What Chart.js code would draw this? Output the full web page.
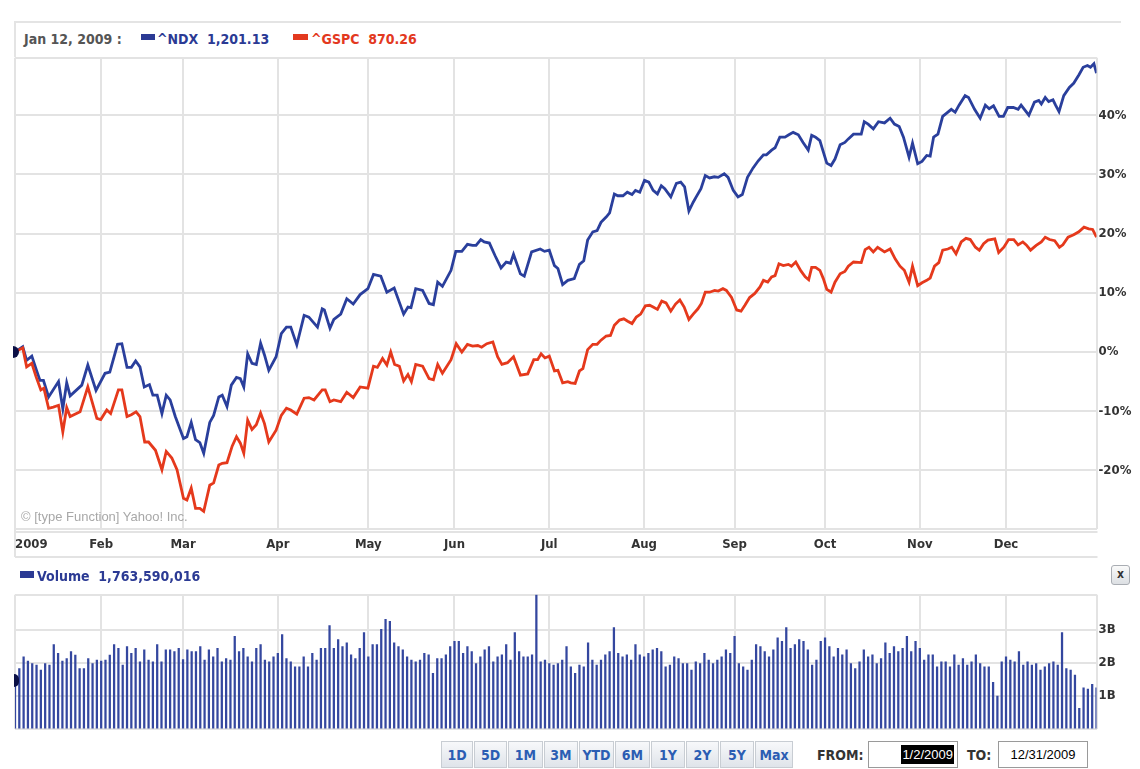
<!DOCTYPE html>
<html>
<head>
<meta charset="utf-8">
<script src="https://cdn.jsdelivr.net/npm/chart.js@4.4.0/dist/chart.umd.min.js"></script>
<style>
  body { margin: 0; background: #fff; width: 1140px; height: 769px; overflow: hidden; position: relative;
         font-family: "DejaVu Sans Condensed", "Liberation Sans Narrow", "DejaVu Sans", sans-serif; }
  .abs { position: absolute; }
  .hdr { font-weight: bold; font-size: 14px; white-space: pre; line-height: 16px; }
  .btn { position: absolute; top: 741px; height: 27px; line-height: 27px; text-align: center; font-weight: bold;
         font-size: 14px; color: #2b5db3; border: 1px solid #c8cdd3; box-sizing: border-box;
         background: linear-gradient(#f7f8fa, #dfe4ea); }
  .box { position: absolute; top: 741px; height: 27px; border: 1px solid #9a9a9a; box-sizing: border-box; background: #fff;
         font-family: "Liberation Sans", Arial, sans-serif; font-size: 13px; line-height: 25px; }
</style>
</head>
<body>
<!-- legend strip above the price pane -->
<div class="abs" style="left:15px; top:21px; width:1106px; height:2px; background:#e4e4e4"></div>
<div class="abs" style="left:14px; top:21px; width:2px; height:36px; background:#e4e4e4"></div>
<div class="abs hdr" style="left:24px; top:31px; color:#555">Jan 12, 2009 :</div>
<div class="abs" style="left:141px; top:34px; width:14px; height:6px; background:#2b3a94"></div>
<div class="abs hdr" style="left:157px; top:31px; color:#2b3a94">^NDX  1,201.13</div>
<div class="abs" style="left:293px; top:34px; width:15px; height:6px; background:#e3391f"></div>
<div class="abs hdr" style="left:311px; top:31px; color:#e3391f">^GSPC  870.26</div>

<canvas id="priceChart" class="abs" style="left:0; top:48px" width="1140" height="517"></canvas>
<canvas id="volumeChart" class="abs" style="left:0; top:585px" width="1140" height="154"></canvas>

<div class="abs" style="left:13px; top:346px; width:6px; height:12px; background:#0b1046; border-radius:0 6px 6px 0"></div>
<div class="abs" style="left:14px; top:674px; width:5px; height:13px; background:#0b1046; border-radius:0 6px 6px 0"></div>
<div class="abs" style="left:21px; top:509px; color:#a8a8a8; font-family:'Liberation Sans',Arial,sans-serif; font-size:13px">&copy; [type Function] Yahoo! Inc.</div>

<!-- volume header -->
<div class="abs" style="left:20px; top:571px; width:14px; height:7px; background:#2b3a94"></div>
<div class="abs hdr" style="left:37px; top:568px; color:#2b3a94">Volume  1,763,590,016</div>
<div class="abs" style="left:1111px; top:565px; width:19px; height:20px; box-sizing:border-box; border:1px solid #a9adb3; border-radius:3px;
     background:linear-gradient(#fafafa,#dcdfe3); text-align:center; font-size:12px; line-height:17px; color:#333; font-weight:bold">x</div>

<!-- range buttons and date boxes -->
<div id="buttons"></div>
<div class="abs hdr" style="left:817px; top:747px; color:#333">FROM:</div>
<div class="box" style="left:868px; width:90px; text-align:right; padding-right:3px">
  <span style="background:#000; color:#fff; padding:2px 1px">1/2/2009</span></div>
<div class="abs hdr" style="left:967px; top:747px; color:#333">TO:</div>
<div class="box" style="left:998px; width:90px; text-align:center">12/31/2009</div>

<script>
// trading-day index of each month start (0 = Jan 2, 251 = Dec 31)
const monthDays = [0, 20, 39, 61, 82, 102, 124, 146, 167, 188, 210, 230];
const monthLabels = ['2009', 'Feb', 'Mar', 'Apr', 'May', 'Jun', 'Jul', 'Aug', 'Sep', 'Oct', 'Nov', 'Dec'];
const lastDay = 251;
const pctTicks = [-20, -10, 0, 10, 20, 30, 40];
const volTicks = [1, 2, 3];
const rangeButtons = ['1D', '5D', '1M', '3M', 'YTD', '6M', '1Y', '2Y', '5Y', 'Max'];

// ^NDX, % change since Jan 2 (turning points)
const ndxDay = [
  0, 1.8, 2.7, 3.9, 5, 5.8, 6.6, 7.8, 10.1, 11.1,
  12, 12.8, 15.5, 16.9, 18.8, 20.9, 22, 23.8, 24.8, 26,
  27, 28, 29, 30, 31.2, 32, 33, 34.1, 35.1, 36,
  37.2, 39.1, 39.9, 40.9, 41.9, 42.9, 43.8, 45.2, 46.1, 47.3,
  48.1, 49.2, 50.2, 51.4, 52.3, 53.1, 54, 55, 56, 57,
  57.9, 58.9, 60.6, 61.8, 63, 64,
  65.4, 67.1, 68.2, 70.2, 71.3, 71.8, 73.1, 74, 75.6, 77,
  78.5, 80.1, 81.9, 83.2, 84.9, 86.3, 88, 90.2, 91.2, 91.9,
  93, 94.6, 96.1, 97.1, 98.1, 99.2, 101.2, 102.3, 103.7, 105,
  106.2, 107, 108.1, 108.9, 110.1, 111.4, 112.8, 114, 115, 115.7,
  117.3, 118.2, 119.9, 121.9, 122.9,
  124, 125.2, 126, 127.1, 128.3, 129.8, 131, 132, 132.9, 134.1,
  135.1, 136, 137.2, 138, 139.1, 139.9, 141.1, 142.1, 143.2, 144,
  145, 146.1, 147.1, 148.1, 149.1, 150, 150.8, 152.2, 153.5, 154.5,
  155.4, 156.4, 157.4, 158.1, 159.2, 160.2, 161.2, 162.3, 163.2, 164.6,
  165.5, 166.7, 167.8, 168.8, 170, 171.3, 172.5, 173.7, 174.4, 175.6,
  176.4, 177.5, 178.7, 179.6, 180.6, 181.8, 182.9, 184.1,
  184.9, 185.8, 186.8, 187.6, 188.4, 189.4, 190.3, 191.5, 192.6, 193.4,
  194.6, 196.4, 197.1, 198, 199.2, 200.4, 201.8, 203.1, 204.1, 205.2,
  206.2, 207.5, 208.3, 209.5, 210.5, 211.6, 212.4, 213.2, 214.2, 215.3,
  216.3, 217.3, 218.2, 219.1, 220.5, 221.3, 222.7, 224, 225.2, 226.1,
  227.1, 228.4, 229.4, 230.4, 231.7, 232.8, 233.5, 235.3, 236.6, 237.6,
  238.2, 239.1, 239.9, 240.9, 241.5, 242.3, 243.4, 244.7, 245.7, 246.9,
  247.9, 248.9, 249.6, 250.4, 251
];
const ndxPct = [
  0, 0.9, -1.4, -0.7, -3.1, -4.8, -4.8, -7.6, -5.0, -9.6,
  -5.2, -7.4, -5.6, -2.2, -6.5, -3.6, -3.4, 1.3, 1.4, -2.6,
  -2.6, -1.5, -2.5, -5.9, -5.5, -7.3, -7.3, -10.4, -7.3, -8.1,
  -10.9, -14.6, -14.3, -11.9, -14.8, -15.3, -17.1, -11.9, -10.7, -7.6,
  -7.3, -9.2, -5.6, -4.3, -4.5, -5.9, -0.3, -1.9, -2.1, 1.5,
  -0.5, -3.1, -0.8, 3.1, 4.2, 4.2,
  1.2, 6.2, 5.9, 4.2, 7.3, 7.1, 4.0, 5.5, 6.4, 9.0,
  8.1, 9.7, 10.7, 13.1, 12.8, 10.1, 10.8, 6.4, 7.6, 7.5,
  10.7, 10.4, 8.2, 8.0, 11.8, 11.1, 13.8, 17.0, 17.0, 18.2,
  18.0, 18.0, 19.0, 18.6, 18.4, 16.3, 14.2, 15.2, 15.0, 16.5,
  13.2, 12.8, 16.9, 17.4, 17.0,
  17.2, 14.6, 14.1, 11.4, 12.1, 12.4, 14.8, 15.4, 18.9, 20.3,
  20.5, 21.9, 22.8, 23.5, 26.7, 26.4, 26.4, 27.0, 26.6, 27.3,
  27.0, 29.0, 28.7, 27.3, 26.7, 28.1, 27.6, 26.2, 28.5, 28.7,
  27.9, 23.8, 25.3, 26.2, 27.6, 29.8, 29.4, 29.6, 29.5, 30.1,
  29.5, 27.3, 26.2, 26.6, 29.5, 31.1, 32.3, 33.3, 33.3, 34.1,
  34.5, 36.3, 36.3, 36.7, 37.1, 36.7, 35.4, 34.1,
  36.6, 36.3, 35.7, 33.8, 31.9, 31.5, 32.6, 35.0, 35.4, 36.0,
  36.8, 36.8, 38.9, 38.5, 37.7, 38.9, 38.7, 39.5, 38.5, 38.1,
  36.3, 32.9, 35.3, 31.8, 32.2, 33.2, 33.1, 36.3, 36.8, 39.8,
  40.4, 41.0, 40.5, 41.7, 43.3, 43.0, 41.0, 39.5, 41.7, 41.1,
  41.6, 39.8, 39.8, 41.3, 41.3, 41.0, 41.7, 40.0, 42.2, 42.5,
  41.9, 43.0, 42.3, 42.6, 41.7, 40.6, 43.3, 44.7, 45.4, 46.8,
  48.1, 48.4, 48.1, 48.7, 47.1
];

// ^GSPC, % change since Jan 2
const spxDay = [
  0, 1.8, 2.7, 3.9, 4.9, 6, 6.7, 7.8, 8.9, 10.1,
  11.1, 12, 12.8, 15.1, 16.9, 19, 19.9, 21.3, 22.2, 24,
  24.8, 26, 27, 28.1, 29, 30.1, 31, 32.6, 34.1, 35.1,
  36.4, 37.6, 39.1, 39.9, 40.9, 41.9, 42.9, 43.8, 45.2, 46.1,
  47.3, 48.1, 49.2, 50.4, 51.4, 52.3, 53.1, 54, 55, 56,
  57, 57.9, 58.9, 60.6, 61.8, 63, 64,
  65.4, 67.1, 68.2, 69.4, 71.3, 72, 73.1, 74, 75.6, 77,
  78.5, 80.1, 81.9, 83.2, 84.1, 85.3, 86.3, 87.2, 88.1, 89.2,
  90.2, 91.2, 92, 93, 94.6, 96.1, 97.1, 98.1, 99.2, 101.2,
  102.4, 103.7, 105, 106.2, 107.4, 108.3, 109.5, 110.9, 112, 113,
  114.3, 115.7, 117.3, 119, 120.4, 121.3, 122.1, 123,
  124, 125.2, 126, 127.1, 128.3, 129, 130, 131, 131.8, 132.9,
  134.1, 135.1, 136, 137.2, 138.2, 139.1, 140.3, 141.3, 142.2, 143.2,
  144.2, 145.2, 146.3, 147.3, 148.1, 149.1, 150.1, 151.1, 152.2, 153.3,
  154.3, 155.3, 156.4, 157.4, 158.5, 159.3, 160.2, 161.2, 162.4, 163.2,
  164.3, 165.1, 166.3, 167.5, 168.5, 169.4, 170.5, 171.7, 172.9, 173.7,
  174.7, 175.6, 176.4, 177.3, 178.3, 179.5, 180.2, 181.2, 182.4, 183.4,
  184.2,
  184.9, 185.8, 186.8, 187.6, 188.4, 189.4, 190.3, 191.5, 192.6, 193.4,
  194.6, 196.4, 197.3, 198.2, 199.2, 200.2, 201.8, 203.1, 204.3, 205.4,
  206.4, 207.5, 208.3, 209.5, 210.5, 211.6, 212.4, 213.4, 214.4, 215.3,
  216.5, 217.4, 218.4, 219.6, 220.7, 221.7, 222.9, 223.8, 224.8, 225.8,
  227.4, 228.3, 229.5, 230.6, 231.8, 232.8, 233.9, 234.7, 235.7, 237,
  238.2, 239.1, 240.1, 241.3, 242.4, 243.2, 244.4, 245.7, 246.9, 248.1,
  249.2, 250.1, 251
];
const spxPct = [
  0, 0.7, -2.5, -1.9, -4.2, -6.4, -6.1, -9.5, -9.3, -9.0,
  -13.5, -9.4, -10.9, -10.1, -5.9, -11.2, -11.4, -9.8, -10.4, -6.4,
  -6.4, -10.9, -10.6, -10.1, -10.9, -15.2, -15.2, -16.6, -19.9, -16.8,
  -17.9, -19.9, -24.7, -25.0, -23.0, -26.4, -26.4, -26.9, -22.5, -22.1,
  -19.1, -18.8, -18.7, -15.9, -14.3, -15.4, -17.1, -11.5, -13.1, -12.3,
  -10.3, -12.1, -15.2, -13.2, -10.7, -9.5, -9.8,
  -10.5, -7.8, -7.7, -8.1, -6.4, -6.4, -8.4, -8.1, -8.4, -6.8,
  -7.7, -5.9, -6.1, -2.4, -2.6, -1.1, -2.2, 0, -2.1, -2.4,
  -4.9, -3.8, -5.0, -2.1, -2.4, -4.5, -4.7, -2.1, -3.6, -1.3,
  1.4, 0, 1.3, 1.0, 1.1, 0.8, 1.4, 1.7, -0.8, -2.1,
  -1.8, -0.8, -3.9, -3.7, -1.3, -1.3, -0.3, -1.0,
  -0.7, -3.2, -3.1, -5.2, -5.0, -5.2, -5.3, -3.2, -2.8, 0.4,
  1.3, 1.3, 2.0, 2.7, 2.8, 4.5, 5.4, 5.6, 5.2, 4.8,
  5.9, 6.4, 7.8, 7.9, 7.6, 7.2, 8.6, 8.3, 6.9, 8.1,
  8.8, 7.6, 5.5, 6.4, 7.3, 8.2, 10.1, 10.1, 10.4, 10.3,
  10.7, 10.4, 9.2, 7.1, 6.9, 7.9, 9.2, 9.9, 11.0, 12.1,
  11.8, 12.7, 12.9, 14.9, 14.6, 14.8, 14.5, 15.2, 13.7, 12.7,
  12.2,
  14.3, 14.3, 13.8, 12.4, 10.6, 10.1, 11.8, 13.2, 13.6, 14.5,
  15.2, 15.1, 17.3, 17.7, 16.9, 17.7, 16.9, 17.4, 15.7, 14.5,
  13.8, 11.8, 14.5, 11.2, 11.7, 12.1, 12.5, 14.5, 15.1, 17.2,
  17.4, 17.7, 16.6, 18.6, 19.2, 19.0, 17.7, 17.2, 18.3, 18.9,
  19.1, 16.8, 17.7, 19.0, 19.0, 18.1, 18.6, 18.1, 17.2, 18.0,
  18.6, 19.4, 19.0, 18.8, 17.7, 18.1, 19.4, 19.8, 20.3, 21.1,
  20.8, 20.7, 19.4
];

// daily ^NDX volume, billions of shares, one value per trading day
const volume = [
  1.60, 1.83, 2.18, 2.05, 1.98, 1.93, 1.78, 1.98, 1.93, 2.55,
  2.29, 2.05, 2.13, 2.34, 2.23, 1.83, 1.83, 2.13, 1.98, 2.08,
  2.05, 2.08, 2.23, 2.55, 2.44, 1.93, 2.49, 2.29, 2.44, 2.03,
  2.39, 2.08, 2.03, 2.55, 2.03, 2.39, 2.39, 2.34, 2.44, 2.10,
  2.39, 2.34, 2.34, 2.49, 2.08, 2.39, 2.18, 2.44, 2.03, 2.13,
  2.08, 2.80, 2.34, 2.44, 2.18, 2.03, 2.44, 2.55, 2.08, 2.03,
  2.18, 2.29, 2.85, 2.13, 2.03, 1.88, 1.88, 2.18, 1.88, 2.29,
  2.08, 2.44, 2.44, 3.12, 2.44, 2.70, 2.49, 2.60, 2.24, 2.13,
  2.44, 2.91, 2.18, 2.55, 2.55, 3.01, 3.31, 3.25, 2.60, 2.49,
  2.39, 2.18, 2.08, 2.03, 2.08, 2.29, 2.24, 1.68, 2.13, 2.13,
  2.24, 2.49, 2.65, 2.65, 2.29, 2.49, 2.34, 1.98, 2.18, 2.39,
  2.49, 2.03, 2.18, 2.24, 2.55, 2.08, 2.91, 2.34, 2.18, 2.18,
  2.24, 4.06, 2.03, 2.08, 1.98, 1.93, 1.98,
  2.08, 2.49, 1.88, 1.68, 1.93, 1.88, 2.60, 2.08, 1.93, 2.08,
  2.24, 2.34, 3.06, 2.29, 2.18, 2.24, 2.08, 2.55, 2.24, 2.18,
  2.29, 2.39, 2.44, 2.34, 1.88, 1.93, 2.18, 2.13, 1.98, 1.98,
  1.78, 2.03, 1.98, 2.29, 2.08, 1.98, 2.08, 2.18, 2.39, 2.29,
  2.80, 1.98, 1.88, 1.78, 2.08, 2.55, 2.49, 2.34, 2.18, 2.39,
  2.75, 2.65, 3.06, 2.44, 2.55, 2.70, 2.65, 2.39, 1.93, 2.08,
  2.65, 2.75, 2.49, 2.18, 2.44, 2.24, 2.39, 1.98, 1.83, 2.03,
  2.39, 2.18, 2.24, 1.98, 2.13, 2.60, 2.29, 2.49, 2.34, 2.44,
  2.80, 2.34, 2.65, 2.44, 2.08, 2.24, 2.24, 1.88, 2.03, 2.03,
  1.88, 2.24, 1.93, 2.13, 1.93, 2.03, 2.24, 1.98, 1.88, 1.88,
  1.41, 1.00, 2.03, 2.18, 2.08, 2.03, 2.34, 1.93, 2.03, 1.93,
  1.98, 1.78, 1.88, 1.98, 2.03, 1.93, 2.91, 1.83, 1.78, 1.63,
  0.63, 1.25, 1.21, 1.35, 1.25
];

const AXIS_FONT = { family: '"DejaVu Sans Condensed", "Liberation Sans Narrow", "DejaVu Sans", sans-serif', size: 13, weight: 'bold' };
const GRID = '#e3e3e3';

// range buttons along the bottom
const btnLeft = [441, 474, 508, 544, 579, 615, 651, 686, 720, 755];
const btnWidth = [32, 33, 35, 34, 35, 35, 34, 33, 34, 38];
const btnHost = document.getElementById('buttons');
rangeButtons.forEach((t, i) => {
    const b = document.createElement('div');
    b.className = 'btn';
    b.style.left = btnLeft[i] + 'px';
    b.style.width = btnWidth[i] + 'px';
    b.textContent = t;
    btnHost.appendChild(b);
});

const toPoints = (days, vals) => days.map((d, i) => ({ x: d, y: vals[i] }));
const xTicks = monthDays.concat([lastDay]);

// month names under the price pane, plus the band lines around them
const monthLabelPlugin = {
    id: 'monthLabels',
    afterDraw(chart) {
        const { ctx, chartArea, scales } = chart;
        const left = chartArea.left, right = chartArea.right + 1;
        ctx.save();
        ctx.strokeStyle = GRID;
        ctx.lineWidth = 2;
        ctx.beginPath();
        ctx.moveTo(left, chartArea.bottom + 3); ctx.lineTo(right, chartArea.bottom + 3);
        ctx.moveTo(left, chartArea.bottom + 28); ctx.lineTo(right, chartArea.bottom + 28);
        ctx.moveTo(left, chartArea.bottom); ctx.lineTo(left, chartArea.bottom + 28);
        ctx.stroke();
        ctx.fillStyle = '#333';
        ctx.font = `bold ${AXIS_FONT.size}px ${AXIS_FONT.family}`;
        ctx.textBaseline = 'middle';
        monthDays.forEach((d, i) => {
            const x = scales.x.getPixelForValue(d);
            ctx.textAlign = i === 0 ? 'left' : 'center';
            ctx.fillText(monthLabels[i], x, chartArea.bottom + 16);
        });
        ctx.restore();
    }
};

new Chart(document.getElementById('priceChart'), {
    type: 'line',
    data: {
        datasets: [
            { label: '^GSPC', data: toPoints(spxDay, spxPct), borderColor: '#e5391c', borderWidth: 2.8,
              pointRadius: 0, tension: 0, fill: false },
            { label: '^NDX', data: toPoints(ndxDay, ndxPct), borderColor: '#2a3f9c', borderWidth: 2.8,
              pointRadius: 0, tension: 0, fill: false }
        ]
    },
    options: {
        responsive: false,
        animation: false,
        layout: { padding: { left: 15, right: 0, top: 9, bottom: 0 } },
        plugins: { legend: { display: false }, tooltip: { enabled: false } },
        scales: {
            x: {
                type: 'linear', min: 0, max: lastDay,
                afterBuildTicks: s => { s.ticks = xTicks.map(v => ({ value: v })); },
                afterFit: s => { s.height = 36; },
                ticks: { display: false },
                grid: { color: GRID, lineWidth: 2, drawTicks: false },
                border: { display: false }
            },
            y: {
                position: 'right', min: -29.9, max: 49.7,
                afterBuildTicks: s => { s.ticks = [-29.9].concat(pctTicks, [49.7]).map(v => ({ value: v })); },
                afterFit: s => { s.width = 43.5; },
                ticks: { callback: v => pctTicks.includes(v) ? v + '%' : '', font: AXIS_FONT, color: '#333', padding: 2 },
                grid: { color: GRID, lineWidth: 2, drawTicks: false },
                border: { display: false }
            }
        }
    },
    plugins: [monthLabelPlugin]
});

new Chart(document.getElementById('volumeChart'), {
    type: 'bar',
    data: {
        datasets: [{
            label: 'Volume',
            data: volume.map((v, i) => ({ x: i, y: v })),
            backgroundColor: '#34479f',
            barThickness: 1.6
        }]
    },
    options: {
        responsive: false,
        animation: false,
        layout: { padding: { left: 15, right: 0, top: 8, bottom: 0 } },
        plugins: { legend: { display: false }, tooltip: { enabled: false } },
        scales: {
            x: {
                type: 'linear', min: 0, max: lastDay, offset: false,
                afterBuildTicks: s => { s.ticks = xTicks.map(v => ({ value: v })); },
                afterFit: s => { s.height = 8; },
                ticks: { display: false },
                grid: { color: GRID, lineWidth: 2, drawTicks: false, offset: false },
                border: { display: false }
            },
            y: {
                position: 'right', min: 0, max: 4.05,
                afterBuildTicks: s => { s.ticks = [0].concat(volTicks, [4.05]).map(v => ({ value: v })); },
                afterFit: s => { s.width = 43.5; },
                ticks: { callback: v => volTicks.includes(v) ? v + 'B' : '', font: AXIS_FONT, color: '#333', padding: 2 },
                grid: { color: GRID, lineWidth: 2, drawTicks: false },
                border: { display: false }
            }
        }
    }
});
</script>
</body>
</html>
